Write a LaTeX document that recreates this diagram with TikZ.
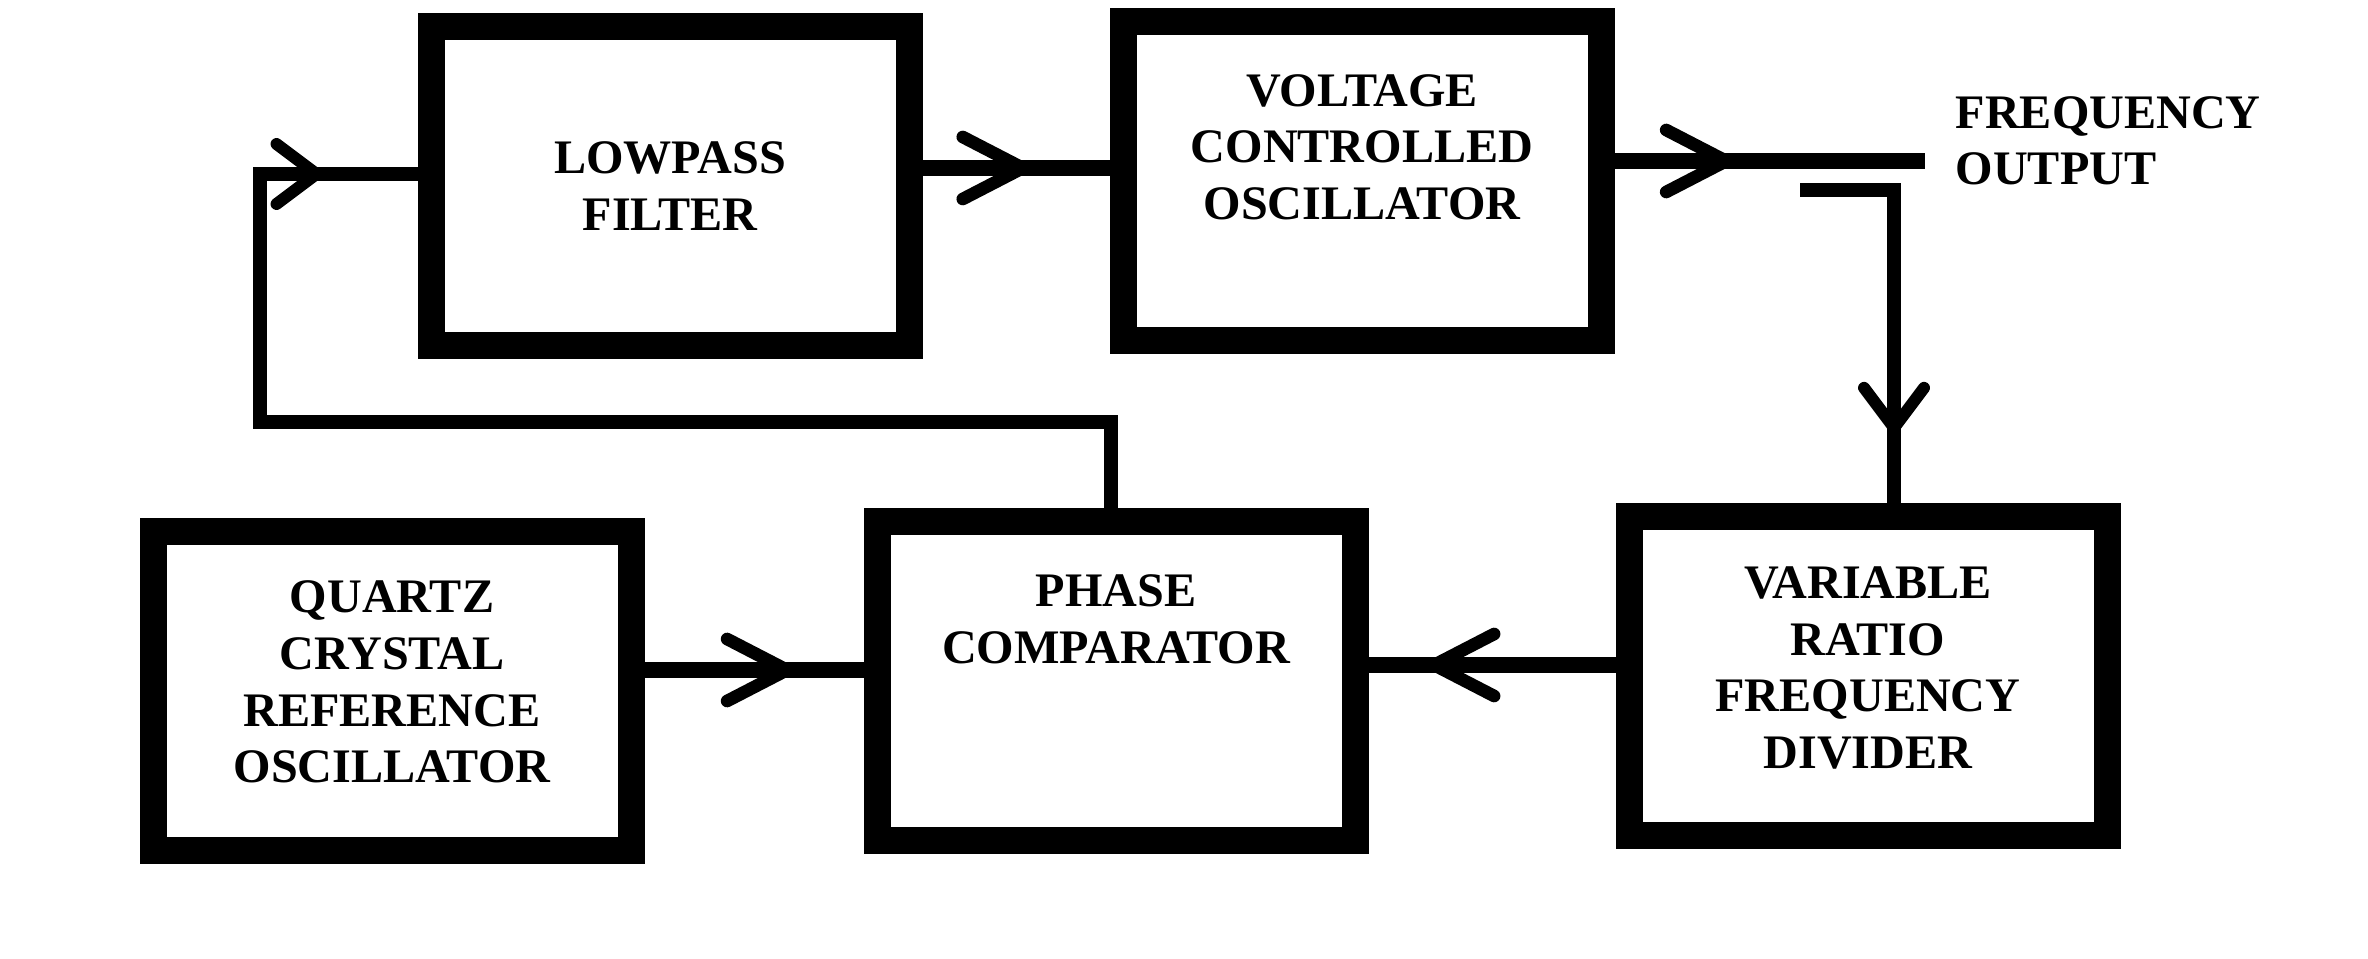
\documentclass[tikz,border=0pt]{standalone}
\usepackage{fontspec}
\setmainfont{Liberation Serif}
\usetikzlibrary{arrows.meta,decorations.markings}

\tikzset{
    blk/.style={draw, line width=0.27cm, minimum width=4.78cm, minimum height=3.19cm, inner sep=0pt},
    lbl/.style={align=center, font=\bfseries\fontsize{13.7}{16.1}\selectfont, inner sep=0pt},
    wire/.style={line width=4.6pt},
    fbwire/.style={line width=3.8pt, line join=miter},
    midarrow/.style={postaction={decorate}, decoration={markings,
        mark=at position #1 with {\arrow{Straight Barb[length=6mm, width=6.2mm, line width=3.6pt, round]}}}},
    shortarrow/.style={postaction={decorate}, decoration={markings,
        mark=at position #1 with {\arrow{Straight Barb[length=4mm, width=6mm, line width=3.4pt, round]}}}}
}

\begin{document}
\begin{tikzpicture}
    	\useasboundingbox (0, 0) rectangle (23.68, 9.58);
    	% Paths, nodes and wires:
    	\node[blk] (lpf) at (6.70, 7.72) {};
    	\node[blk] (vco) at (13.62, 7.77) {};
    	\node[blk] (qcro) at (3.92, 2.67) {};
    	\node[blk] (pc) at (11.16, 2.77) {};
    	\node[blk] (vrfd) at (18.68, 2.82) {};
    	\node[lbl] (lpf-t) at (lpf.center) {LOWPASS\\FILTER};
    	\node[lbl] (vco-t) at ([yshift=0.34cm]vco.center) {VOLTAGE\\CONTROLLED\\OSCILLATOR};
    	\node[lbl] (qcro-t) at ([yshift=0.09cm]qcro.center) {QUARTZ\\CRYSTAL\\REFERENCE\\OSCILLATOR};
    	\node[lbl] (pc-t) at ([yshift=0.62cm]pc.center) {PHASE\\COMPARATOR};
    	\node[lbl] (vrfd-t) at ([yshift=0.08cm]vrfd.center) {VARIABLE\\RATIO\\FREQUENCY\\DIVIDER};
    	\node[lbl, align=left, anchor=west] (fout-t) at (19.55, 8.17) {FREQUENCY\\OUTPUT};
    	\coordinate (fout) at (19.25, 7.97);
    	\coordinate (tap) at (18.00, 7.68);
    	\coordinate (tapc) at (18.94, 7.68);
    	\coordinate (fbr) at (11.11, 5.36);
    	\coordinate (fbl) at (2.60, 5.36);
    	\draw[wire, midarrow=0.57] ([yshift=0.18cm]lpf.east) -- ([yshift=0.18cm]lpf.east -| vco.west);
    	\draw[wire, midarrow=0.38] (vco.east |- fout) -- (fout);
    	\draw[wire, line width=4pt, line cap=butt, shortarrow=0.83] (tap) -- (tapc) -- (tapc |- vrfd.north);
    	\draw[fbwire, shortarrow=-0.95cm] (fbr |- pc.north) -- (fbr) -- (fbl) |- ([yshift=0.12cm]lpf.west);
    	\draw[wire, midarrow=0.68] ([yshift=0.21cm]qcro.east) -- ([yshift=0.21cm]qcro.east -| pc.west);
    	\draw[wire, midarrow=0.76] ([yshift=0.11cm]vrfd.west) -- ([yshift=0.11cm]vrfd.west -| pc.east);
    \end{tikzpicture}
\end{document}
